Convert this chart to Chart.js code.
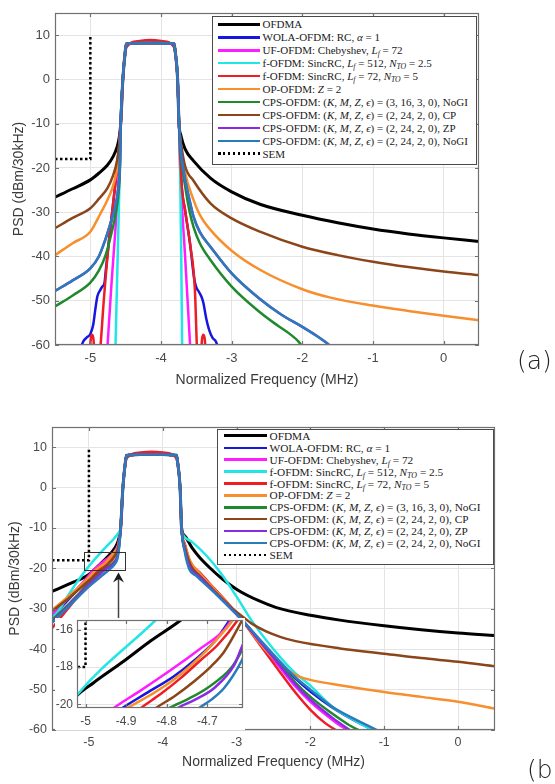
<!DOCTYPE html>
<html>
<head>
<meta charset="utf-8">
<script src="https://cdn.jsdelivr.net/npm/chart.js@4.4.1/dist/chart.umd.min.js"></script>
<style>
  html, body { margin: 0; padding: 0; background: #fff; }
  body { width: 555px; height: 784px; overflow: hidden; position: relative; }
  canvas { position: absolute; }
  #chartA { left: 0; top: 0; }
  #chartB { left: 0; top: 400px; }
  #inset  { left: 55px; top: 618px; }
  .legend { position: absolute; background: #fff; border: 1.5px solid #4a4a4a; box-sizing: border-box;
            font-family: 'Liberation Serif', 'Times New Roman', serif; color: #1a1a1a; white-space: nowrap; }
  .legend .row { display: flex; align-items: center; }
  .legend .swatch { flex: none; }
  .legend sub { font-size: 70%; line-height: 0; vertical-align: -0.3em; }
  #legendA { left: 212px; top: 16px; width: 265px; height: 149px; padding-top: 1px; font-size: 11px; }
  #legendB { left: 217px; top: 429px; width: 277px; height: 136px; padding-top: 0; font-size: 11.3px; }
  .panel-tag { position: absolute; font-family: 'DejaVu Sans', sans-serif; font-weight: 200; font-size: 25px;
               line-height: 30px; color: #222; white-space: nowrap; }
</style>
</head>
<body>
<canvas id="chartA" width="555" height="395"></canvas>
<canvas id="chartB" width="555" height="384"></canvas>
<canvas id="inset" width="190" height="112"></canvas>
<div id="legendA" class="legend"></div>
<div id="legendB" class="legend"></div>
<div class="panel-tag" style="left:517px;top:346px">(a)</div>
<div class="panel-tag" style="left:527px;top:755px">(b)</div>
<script>
// ---------- axes ----------
const freqTicks = [-5, -4, -3, -2, -1, 0];
const psdTicks = [-60, -50, -40, -30, -20, -10, 0, 10];
const insetFreqTicks = [-5, -4.9, -4.8, -4.7];
const insetPsdTicks = [-20, -18, -16];

// ---------- series ----------
const seriesNames = [
  'OFDMA',
  'WOLA-OFDM: RC, α = 1',
  'UF-OFDM: Chebyshev, Lf = 72',
  'f-OFDM: SincRC, Lf = 512, NTO = 2.5',
  'f-OFDM: SincRC, Lf = 72, NTO = 5',
  'OP-OFDM: Z = 2',
  'CPS-OFDM: (K, M, Z, ϵ) = (3, 16, 3, 0), NoGI',
  'CPS-OFDM: (K, M, Z, ϵ) = (2, 24, 2, 0), CP',
  'CPS-OFDM: (K, M, Z, ϵ) = (2, 24, 2, 0), ZP',
  'CPS-OFDM: (K, M, Z, ϵ) = (2, 24, 2, 0), NoGI',
  'SEM'
];
const legendLabels = [
  'OFDMA',
  'WOLA-OFDM: RC, <i>α</i> = 1',
  'UF-OFDM: Chebyshev, <i>L<sub>f</sub></i> = 72',
  'f-OFDM: SincRC, <i>L<sub>f</sub></i> = 512, <i>N<sub>TO</sub></i> = 2.5',
  'f-OFDM: SincRC, <i>L<sub>f</sub></i> = 72, <i>N<sub>TO</sub></i> = 5',
  'OP-OFDM: <i>Z</i> = 2',
  'CPS-OFDM: (<i>K</i>, <i>M</i>, <i>Z</i>, <i>ϵ</i>) = (3, 16, 3, 0), NoGI',
  'CPS-OFDM: (<i>K</i>, <i>M</i>, <i>Z</i>, <i>ϵ</i>) = (2, 24, 2, 0), CP',
  'CPS-OFDM: (<i>K</i>, <i>M</i>, <i>Z</i>, <i>ϵ</i>) = (2, 24, 2, 0), ZP',
  'CPS-OFDM: (<i>K</i>, <i>M</i>, <i>Z</i>, <i>ϵ</i>) = (2, 24, 2, 0), NoGI',
  'SEM'
];
const seriesColors = ['#000000', '#1616e0', '#ff1cff', '#22e6e6', '#ee1c24', '#f78f2e',
                      '#1e8a2c', '#8b4519', '#8a2be2', '#2b7bba', '#000000'];

// in-band level shared by the waveforms, [MHz, dBm/30kHz]
const bandFlat = [[-4.54, 0], [-4.505, 6.5], [-4.49, 8], [-4.45, 8.1], [-4.3, 8.2], [-4.15, 8.2],
                  [-4.0, 8.2], [-3.86, 8.1], [-3.815, 8], [-3.80, 6.5], [-3.765, 0]];
// in-band ripple of f-OFDM (Lf = 72)
const bandRipple = [[-4.54, 0], [-4.51, 5.5], [-4.495, 7], [-4.47, 7.6], [-4.42, 8.3], [-4.3, 8.7], [-4.15, 8.9],
                    [-4.0, 8.7], [-3.88, 8.3], [-3.83, 7.6], [-3.81, 7], [-3.795, 5.5], [-3.765, 0]];

// spectrum emission mask
const sem = [[-5.5, -18], [-5.0, -18], [-5.0, 10]];

// ---- panel (a): out-of-band skirts ----
const aOfdma = [[-5.5, -26.6], [-5.25, -24.7], [-5.0, -22.7], [-4.88, -21.2], [-4.76, -19.4], [-4.68, -17.5], [-4.62, -15.2], [-4.59, -13], [-4.57, -10],
  [-3.745, -10], [-3.72, -12.6], [-3.66, -15.7], [-3.54, -18.4], [-3.3, -22.3], [-3.0, -25.4], [-2.6, -28.2], [-2.0, -30.7], [-1.5, -32.4], [-1.0, -33.8], [-0.5, -34.9], [0, -35.8], [0.5, -36.6]];
const aWola = [[-5.2, -66], [-5.14, -61], [-5.10, -59.2], [-5.05, -58.3], [-5.0, -57.5], [-4.96, -55.5], [-4.93, -52], [-4.9, -49], [-4.86, -47.6], [-4.83, -46.8], [-4.80, -46], [-4.78, -43], [-4.74, -37], [-4.67, -27], [-4.61, -18], [-4.57, -10],
  [-3.745, -10], [-3.71, -23.5], [-3.66, -29.5], [-3.59, -37], [-3.53, -45], [-3.50, -47], [-3.47, -47.8], [-3.43, -49], [-3.40, -50.5], [-3.36, -54], [-3.32, -56.5], [-3.27, -58.4], [-3.22, -59.3], [-3.19, -61], [-3.15, -66]];
const aUf = [[-4.76, -61], [-4.70, -46], [-4.65, -35], [-4.6, -22], [-4.57, -10],
  [-3.745, -10], [-3.73, -19.7], [-3.66, -39.7], [-3.585, -61]];
const aF512 = [[-4.645, -61], [-4.61, -38], [-4.58, -18], [-4.57, -10],
  [-3.745, -10], [-3.73, -20], [-3.715, -38], [-3.70, -61]];
const aF72 = [[-5.02, -66], [-4.995, -58.8], [-4.975, -57.7], [-4.955, -58.8], [-4.93, -66], [-4.895, -66], [-4.86, -61], [-4.81, -50], [-4.74, -37], [-4.67, -27], [-4.61, -18], [-4.57, -10],
  [-3.745, -10], [-3.71, -23.5], [-3.66, -29.5], [-3.59, -37], [-3.52, -47.6], [-3.49, -61], [-3.45, -66], [-3.42, -58.8], [-3.40, -57.7], [-3.38, -58.8], [-3.355, -66]];
const aOp = [[-5.5, -39.7], [-5.25, -37], [-5.0, -34.4], [-4.86, -30.4], [-4.76, -27.3], [-4.69, -24.6], [-4.63, -21], [-4.6, -17.5], [-4.57, -10],
  [-3.745, -10], [-3.72, -14.5], [-3.66, -21], [-3.54, -27.2], [-3.45, -30.6], [-3.3, -34], [-3.0, -38.7], [-2.6, -43], [-2.0, -47.4], [-1.6, -49.3], [-1.0, -51.1], [-0.5, -52.3], [0, -53.4], [0.5, -54.4]];
const aCps3 = [[-5.5, -51.3], [-5.25, -48.8], [-5.0, -45.9], [-4.88, -43.2], [-4.79, -40], [-4.72, -36], [-4.65, -31], [-4.6, -25.5], [-4.58, -19.5], [-4.57, -10],
  [-3.745, -10], [-3.72, -17], [-3.66, -24], [-3.6, -29.5], [-3.54, -33.3], [-3.45, -37], [-3.3, -40.8], [-3.0, -46.8], [-2.6, -52.6], [-2.35, -55.6], [-2.17, -57.6], [-2.05, -59.3], [-1.98, -61]];
const aCpsCp = [[-5.5, -33.6], [-5.25, -31.3], [-5.0, -29.1], [-4.88, -27], [-4.76, -24.6], [-4.68, -21.8], [-4.62, -18.2], [-4.59, -14.5], [-4.57, -10],
  [-3.745, -10], [-3.72, -14], [-3.66, -19.5], [-3.54, -22.9], [-3.3, -28], [-3.0, -31.4], [-2.6, -34.4], [-2.0, -37.8], [-1.5, -39.7], [-1.0, -41.2], [-0.5, -42.4], [0, -43.4], [0.5, -44.2]];
const aCpsZp = [[-5.5, -47.8], [-5.25, -45.4], [-5.0, -42.7], [-4.88, -40], [-4.79, -36.3], [-4.72, -32.8], [-4.65, -28.8], [-4.6, -24], [-4.58, -18.5], [-4.57, -10],
  [-3.745, -10], [-3.72, -16], [-3.66, -22.5], [-3.6, -27], [-3.54, -31], [-3.45, -34.5], [-3.3, -37.8], [-3.0, -43.8], [-2.6, -49.6], [-2.3, -53.1], [-2.0, -55.9], [-1.8, -57.9], [-1.65, -59.6], [-1.55, -61]];
const aCpsNogi = [[-5.5, -47.8], [-5.25, -45.4], [-5.0, -42.7], [-4.88, -40], [-4.79, -36.3], [-4.72, -32.8], [-4.65, -28.8], [-4.6, -24], [-4.58, -18.5], [-4.57, -10],
  [-3.745, -10], [-3.72, -16], [-3.66, -22.5], [-3.6, -27], [-3.54, -31], [-3.45, -34.5], [-3.3, -37.8], [-3.0, -43.8], [-2.6, -49.6], [-2.3, -53.1], [-2.0, -55.9], [-1.8, -57.9], [-1.65, -59.6], [-1.55, -61]];

// ---- panel (b): out-of-band skirts with the nonlinear amplifier ----
const bOfdma = [[-5.5, -25.7], [-5.25, -23.7], [-5.0, -21.5], [-4.83, -18.6], [-4.7, -16.2], [-4.62, -14], [-4.59, -12.3], [-4.57, -10],
  [-3.745, -10], [-3.7, -12], [-3.6, -15], [-3.5, -17.3], [-3.36, -19.9], [-3.2, -22.5], [-2.98, -25.4], [-2.7, -28], [-2.46, -29.7], [-2.0, -31.6], [-1.6, -32.8], [-1.0, -34.2], [-0.5, -35.2], [0, -36], [0.5, -36.6]];
const bWola = [[-5.5, -32], [-5.25, -27.2], [-5.0, -22.1], [-4.914, -20.3], [-4.85, -19.4], [-4.782, -18.5], [-4.682, -16.6], [-4.645, -15.5], [-4.605, -14], [-4.57, -10],
  [-3.745, -10], [-3.7, -14.8], [-3.62, -19.2], [-3.5, -21.6], [-3.3, -25.5], [-3.1, -29.3], [-2.93, -32.7], [-2.7, -37.5], [-2.45, -42.5], [-2.2, -47.3], [-2.0, -50.5], [-1.7, -54.5], [-1.4, -57.7], [-1.08, -60.6]];
const bUf = [[-5.5, -31.5], [-5.25, -26.8], [-5.0, -21.8], [-4.935, -20.3], [-4.86, -19.2], [-4.782, -18], [-4.72, -17.1], [-4.658, -16], [-4.62, -15], [-4.595, -13.5], [-4.57, -10],
  [-3.745, -10], [-3.7, -14.5], [-3.62, -18.8], [-3.5, -21.3], [-3.3, -25.3], [-3.1, -29.2], [-2.93, -32.7], [-2.7, -38], [-2.45, -43.7], [-2.2, -49.3], [-2.0, -53], [-1.7, -57.5], [-1.46, -60.6]];
const bF512 = [[-5.5, -32.4], [-5.4, -30.2], [-5.28, -26.6], [-5.1, -21.8], [-4.97, -18.8], [-4.8, -15.3], [-4.65, -12.4], [-4.59, -11], [-4.57, -10],
  [-3.745, -10], [-3.72, -11.8], [-3.6, -13.5], [-3.4, -17], [-3.2, -21.5], [-3.0, -27], [-2.8, -32.8], [-2.5, -40], [-2.23, -45.5], [-2.0, -49], [-1.7, -54.3], [-1.4, -57.6], [-1.1, -60.6]];
const bF72 = [[-5.5, -34.8], [-5.25, -29.2], [-5.0, -23.3], [-4.868, -20.3], [-4.765, -18.6], [-4.674, -16.8], [-4.625, -15.5], [-4.595, -14.3], [-4.57, -10],
  [-3.745, -10], [-3.7, -14], [-3.63, -18.3], [-3.5, -21], [-3.3, -25], [-3.1, -29], [-2.93, -32.7], [-2.7, -38.5], [-2.46, -44.5], [-2.2, -50.8], [-2.0, -55], [-1.8, -58.3], [-1.6, -60.6]];
const bOp = [[-5.5, -30.3], [-5.25, -26.5], [-5.0, -22.2], [-4.902, -20.3], [-4.782, -18.7], [-4.674, -16.4], [-4.637, -15.5], [-4.6, -14], [-4.57, -10],
  [-3.745, -10], [-3.7, -14.2], [-3.62, -18.5], [-3.5, -21.2], [-3.3, -25.2], [-3.1, -29.1], [-2.93, -32.6], [-2.7, -38.2], [-2.5, -42.3], [-2.3, -45.3], [-2.15, -46.8], [-2.0, -47.6], [-1.6, -48.9], [-1.0, -50.6], [-0.5, -51.8], [0, -53], [0.5, -54.7]];
const bCps3 = [[-5.5, -32.8], [-5.25, -28.4], [-5.0, -23.8], [-4.798, -20.3], [-4.699, -19.1], [-4.641, -18], [-4.616, -17.2], [-4.595, -15], [-4.57, -10],
  [-3.745, -10], [-3.7, -15.2], [-3.63, -19.5], [-3.5, -22], [-3.3, -25.8], [-3.1, -29.4], [-2.93, -32.7], [-2.7, -37.6], [-2.45, -42.8], [-2.2, -48.3], [-2.0, -51.8], [-1.7, -56], [-1.5, -58.5], [-1.29, -60.6]];
const bCpsCp = [[-5.5, -30.6], [-5.25, -27], [-5.0, -23], [-4.831, -20.3], [-4.732, -18.8], [-4.658, -17.2], [-4.616, -15.6], [-4.59, -13.5], [-4.57, -10],
  [-3.745, -10], [-3.7, -14.8], [-3.62, -19.3], [-3.5, -21.8], [-3.3, -25.6], [-3.1, -29.2], [-2.93, -31.8], [-2.8, -33.6], [-2.6, -35.6], [-2.4, -37], [-2.2, -38], [-1.6, -39.8], [-1.0, -41.1], [-0.5, -42.2], [0, -43.1], [0.5, -44.2]];
const bCpsZp = [[-5.5, -33.2], [-5.25, -28.7], [-5.0, -24], [-4.778, -20.3], [-4.682, -19.1], [-4.633, -17.9], [-4.616, -17], [-4.595, -15], [-4.57, -10],
  [-3.745, -10], [-3.7, -15.6], [-3.63, -19.8], [-3.5, -22.1], [-3.3, -25.9], [-3.1, -29.5], [-2.93, -32.7], [-2.7, -37.8], [-2.45, -43.2], [-2.2, -48.8], [-2.0, -52.5], [-1.7, -57], [-1.42, -60.6]];
const bCpsNogi = [[-5.5, -33.5], [-5.25, -29], [-5.0, -24.5], [-4.85, -22.2], [-4.724, -20.3], [-4.658, -19.1], [-4.616, -17.7], [-4.595, -15.5], [-4.57, -10],
  [-3.745, -10], [-3.7, -16], [-3.64, -20.2], [-3.55, -21.8], [-3.3, -26], [-3.1, -29.6], [-2.93, -32.7], [-2.7, -37.3], [-2.45, -42.3], [-2.2, -47], [-2.0, -50], [-1.7, -54.3], [-1.4, -57.3], [-1.03, -60.6]];

// ---- close-up of the lower band edge in panel (b) ----
const zOfdma = [[-5.04, -20.1], [-5.026, -19.64], [-4.98, -18.84], [-4.906, -17.69], [-4.84, -16.6], [-4.765, -15.47], [-4.74, -15.0]];
const zWola = [[-4.94, -20.7], [-4.914, -20.27], [-4.85, -19.4], [-4.782, -18.49], [-4.73, -17.6], [-4.682, -16.62], [-4.645, -15.47], [-4.635, -15.1]];
const zUf = [[-4.96, -20.7], [-4.935, -20.27], [-4.86, -19.2], [-4.782, -18.04], [-4.72, -17.05], [-4.658, -16], [-4.641, -15.47], [-4.63, -15.1]];
const zF512 = [[-5.04, -20.1], [-5.026, -19.64], [-4.827, -15.47], [-4.81, -15.1]];
const zF72 = [[-4.89, -20.7], [-4.868, -20.27], [-4.815, -19.45], [-4.765, -18.58], [-4.72, -17.7], [-4.674, -16.8], [-4.625, -15.47], [-4.615, -15.1]];
const zOp = [[-4.93, -20.7], [-4.902, -20.27], [-4.84, -19.5], [-4.782, -18.67], [-4.72, -17.5], [-4.674, -16.44], [-4.637, -15.47], [-4.627, -15.1]];
const zCps3 = [[-4.82, -20.7], [-4.798, -20.27], [-4.75, -19.75], [-4.699, -19.11], [-4.641, -18.04], [-4.616, -17.16], [-4.6, -16.5]];
const zCpsCp = [[-4.855, -20.7], [-4.831, -20.27], [-4.78, -19.55], [-4.732, -18.76], [-4.69, -17.95], [-4.658, -17.16], [-4.616, -15.56], [-4.605, -15.1]];
const zCpsZp = [[-4.80, -20.7], [-4.778, -20.27], [-4.73, -19.75], [-4.682, -19.11], [-4.633, -17.87], [-4.616, -16.98], [-4.6, -16.2]];
const zCpsNogi = [[-4.75, -20.8], [-4.724, -20.27], [-4.69, -19.75], [-4.658, -19.11], [-4.616, -17.69], [-4.6, -16.9]];

// zoom marker in panel (b), in axis units
const zoomBox = { x0: -5.07, x1: -4.52, y0: -20.4, y1: -15.9 };
const zoomArrow = { x: -4.61, from: -32.8, to: -21 };

// ---------- helpers ----------
function lineDatasets(series, band, ripple) {
  const last = series.length - 1;
  return series.map((pts, i) => {
    const mask = i === last;
    const extra = mask ? [] : (i === 4 ? ripple : band);
    return {
      label: seriesNames[i],
      data: pts.concat(extra).sort((p, q) => p[0] - q[0]).map(([x, y]) => ({ x, y })),
      borderColor: seriesColors[i],
      backgroundColor: seriesColors[i],
      borderWidth: i === 0 ? 3 : 2.5,
      borderDash: mask ? [2.5, 2.5] : [],
      pointRadius: 0,
      cubicInterpolationMode: mask ? 'default' : 'monotone',
      tension: 0,
      fill: false,
      clip: 0,
      order: series.length - i
    };
  });
}

const matlabAxes = {
  id: 'matlabAxes',
  beforeDraw(chart, args, opts) {
    if (!opts.background) return;
    const { ctx, width, height } = chart;
    ctx.save();
    ctx.fillStyle = opts.background;
    ctx.fillRect(0, 0, width, height);
    ctx.restore();
  },
  afterDatasetsDraw(chart, args, opts) {
    const { ctx, chartArea: a, scales: { x, y } } = chart;
    const L = opts.tickLength;
    ctx.save();
    ctx.strokeStyle = opts.color;
    ctx.lineWidth = opts.lineWidth;
    ctx.beginPath();
    x.ticks.forEach(t => {
      const p = Math.round(x.getPixelForValue(t.value)) + 0.5;
      ctx.moveTo(p, a.bottom); ctx.lineTo(p, a.bottom - L);
      ctx.moveTo(p, a.top); ctx.lineTo(p, a.top + L);
    });
    y.ticks.forEach(t => {
      const p = Math.round(y.getPixelForValue(t.value)) + 0.5;
      ctx.moveTo(a.left, p); ctx.lineTo(a.left + L, p);
      ctx.moveTo(a.right, p); ctx.lineTo(a.right - L, p);
    });
    ctx.stroke();
    ctx.strokeRect(Math.round(a.left) + 0.5, Math.round(a.top) + 0.5,
                   Math.round(a.right - a.left) - 1, Math.round(a.bottom - a.top) - 1);
    ctx.restore();
  }
};

const zoomMarker = {
  id: 'zoomMarker',
  afterDatasetsDraw(chart, args, opts) {
    const { ctx, scales: { x, y } } = chart;
    const b = opts.box, ar = opts.arrow;
    const x0 = x.getPixelForValue(b.x0), x1 = x.getPixelForValue(b.x1);
    const y0 = y.getPixelForValue(b.y0), y1 = y.getPixelForValue(b.y1);
    ctx.save();
    ctx.strokeStyle = '#333';
    ctx.lineWidth = 1;
    ctx.strokeRect(Math.round(x0) + 0.5, Math.round(y1) + 0.5, Math.round(x1 - x0), Math.round(y0 - y1));
    const ax = Math.round(x.getPixelForValue(ar.x)) + 0.5;
    const yFrom = y.getPixelForValue(ar.from), yTip = y.getPixelForValue(ar.to);
    ctx.lineWidth = 1.5;
    ctx.strokeStyle = '#444';
    ctx.beginPath(); ctx.moveTo(ax, yFrom); ctx.lineTo(ax, yTip + 6); ctx.stroke();
    ctx.fillStyle = '#1a1a1a';
    ctx.beginPath();
    ctx.moveTo(ax, yTip); ctx.lineTo(ax - 5.5, yTip + 10); ctx.lineTo(ax, yTip + 6.5); ctx.lineTo(ax + 5.5, yTip + 10);
    ctx.closePath(); ctx.fill();
    ctx.restore();
  }
};

const fixedTicks = values => scale => { scale.ticks = values.map(v => ({ value: v })); };
const fixedSize = (prop, size) => scale => {
  scale[prop] = size;
  scale.paddingTop = 0; scale.paddingBottom = 0; scale.paddingLeft = 0; scale.paddingRight = 0;
};

function axisOptions(cfg) {
  return {
    x: {
      type: 'linear', min: cfg.xmin, max: cfg.xmax,
      afterBuildTicks: fixedTicks(cfg.xticks),
      afterFit: fixedSize('height', cfg.xHeight),
      grid: { color: '#e4e4e4', lineWidth: 1, drawTicks: false },
      border: { display: false },
      ticks: { color: '#4a4a4a', font: { size: cfg.tickSize }, padding: cfg.xPad, maxRotation: 0, autoSkip: false,
               callback: v => String(v) },
      title: cfg.xTitle ? { display: true, text: cfg.xTitle, color: '#3a3a3a', font: { size: 14 },
                            padding: { top: 0, bottom: cfg.xTitlePad } } : { display: false }
    },
    y: {
      type: 'linear', min: cfg.ymin, max: cfg.ymax,
      afterBuildTicks: fixedTicks(cfg.yticks),
      afterFit: fixedSize('width', cfg.yWidth),
      grid: { color: '#e4e4e4', lineWidth: 1, drawTicks: false },
      border: { display: false },
      ticks: { color: '#4a4a4a', font: { size: cfg.tickSize }, padding: cfg.yPad, autoSkip: false,
               callback: v => String(v) },
      title: cfg.yTitle ? { display: true, text: cfg.yTitle, color: '#3a3a3a', font: { size: 14 },
                            padding: { top: cfg.yTitlePad, bottom: 0 } } : { display: false }
    }
  };
}

function baseOptions(cfg, extraPlugins) {
  return {
    responsive: false,
    animation: false,
    devicePixelRatio: 1,
    events: [],
    layout: { padding: cfg.padding },
    scales: axisOptions(cfg),
    plugins: Object.assign({
      legend: { display: false },
      tooltip: { enabled: false },
      matlabAxes: { color: '#707070', lineWidth: 1.2, tickLength: 4, background: cfg.background || null }
    }, extraPlugins || {})
  };
}

Chart.defaults.font.family = "'Liberation Sans', Arial, sans-serif";

// ---------- panel (a) ----------
new Chart(document.getElementById('chartA'), {
  type: 'line',
  data: { datasets: lineDatasets([aOfdma, aWola, aUf, aF512, aF72, aOp, aCps3, aCpsCp, aCpsZp, aCpsNogi, sem], bandFlat, bandRipple) },
  options: baseOptions({
    xmin: -5.5, xmax: 0.5, ymin: -60, ymax: 15, xticks: freqTicks, yticks: psdTicks,
    xHeight: 50, yWidth: 55, tickSize: 13, xPad: 6, yPad: 5,
    xTitle: 'Normalized Frequency (MHz)', xTitlePad: 6.6,
    yTitle: 'PSD (dBm/30kHz)', yTitlePad: 10.6,
    padding: { left: 0, top: 13, right: 76, bottom: 0 }
  }),
  plugins: [matlabAxes]
});

// ---------- panel (b) ----------
new Chart(document.getElementById('chartB'), {
  type: 'line',
  data: { datasets: lineDatasets([bOfdma, bWola, bUf, bF512, bF72, bOp, bCps3, bCpsCp, bCpsZp, bCpsNogi, sem], bandFlat, bandRipple) },
  options: baseOptions({
    xmin: -5.5, xmax: 0.5, ymin: -60, ymax: 15, xticks: freqTicks, yticks: psdTicks,
    xHeight: 54, yWidth: 52, tickSize: 12.5, xPad: 5.5, yPad: 5,
    xTitle: 'Normalized Frequency (MHz)', xTitlePad: 13.6,
    yTitle: 'PSD (dBm/30kHz)', yTitlePad: 6.6,
    padding: { left: 0, top: 27, right: 60, bottom: 0 }
  }, { zoomMarker: { box: zoomBox, arrow: zoomArrow } }),
  plugins: [matlabAxes, zoomMarker]
});

// ---------- close-up inside panel (b) ----------
new Chart(document.getElementById('inset'), {
  type: 'line',
  data: { datasets: lineDatasets([zOfdma, zWola, zUf, zF512, zF72, zOp, zCps3, zCpsCp, zCpsZp, zCpsNogi, sem], [], []) },
  options: baseOptions({
    xmin: -5.021, xmax: -4.612, ymin: -20.2, ymax: -15.47, xticks: insetFreqTicks, yticks: insetPsdTicks,
    xHeight: 22, yWidth: 22, tickSize: 12, xPad: 6.8, yPad: 4,
    padding: { left: 0, top: 2, right: 2, bottom: 0 },
    background: '#ffffff'
  }),
  plugins: [matlabAxes]
});

// ---------- legends ----------
function buildLegend(id, rowHeight, swatchLeft, swatchWidth) {
  const box = document.getElementById(id);
  legendLabels.forEach((html, i) => {
    const row = document.createElement('div');
    row.className = 'row';
    row.style.height = rowHeight + 'px';
    const sw = document.createElement('span');
    sw.className = 'swatch';
    sw.style.width = swatchWidth + 'px';
    sw.style.marginLeft = swatchLeft + 'px';
    sw.style.marginRight = '3px';
    const w = i === 0 ? 3 : 2.5;
    sw.style.height = w + 'px';
    if (i === legendLabels.length - 1) {
      sw.style.background = `repeating-linear-gradient(90deg, ${seriesColors[i]} 0 2.5px, transparent 2.5px 5px)`;
    } else {
      sw.style.background = seriesColors[i];
    }
    const txt = document.createElement('span');
    txt.innerHTML = html;
    row.appendChild(sw);
    row.appendChild(txt);
    box.appendChild(row);
  });
}
buildLegend('legendA', 12.93, 4.5, 42);
buildLegend('legendB', 11.9, 5.5, 43);
</script>
</body>
</html>
